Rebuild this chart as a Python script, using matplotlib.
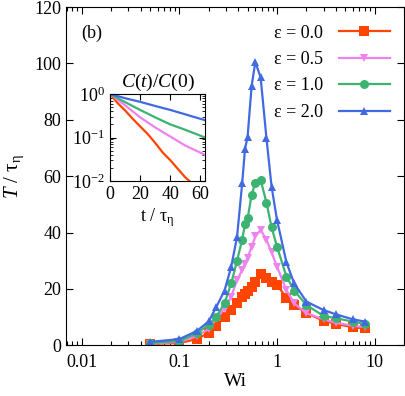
import matplotlib
matplotlib.use("Agg")
import matplotlib.pyplot as plt
from matplotlib.ticker import LogLocator, NullFormatter, FixedLocator

plt.rcParams['font.family'] = ['Liberation Serif', 'DejaVu Serif']
plt.rcParams['mathtext.fontset'] = 'custom'
plt.rcParams['mathtext.rm'] = 'Liberation Serif'
plt.rcParams['mathtext.it'] = 'Liberation Serif:italic'
plt.rcParams['mathtext.default'] = 'regular'
plt.rcParams['font.size'] = 13

# ---- main data ----
wi = [0.05, 0.1, 0.15, 0.2, 0.24, 0.29, 0.34, 0.39, 0.44, 0.47, 0.5, 0.55,
      0.6, 0.68, 0.78, 0.88, 1.0, 1.25, 1.5, 2, 3, 4, 6, 8]
T_eps00 = [0.5, 0.8, 2.2, 4.4, 6.9, 10.2, 12.5, 14.9, 17.3, 18.2, 19.2, 20.8,
           22.6, 25.3, 24.0, 22.6, 21.4, 16.9, 14.3, 11.4, 8.7, 7.6, 6.4, 6.0]
T_eps05 = [0.6, 1.2, 3.2, 5.8, 9.5, 13.0, 17.3, 23.2, 26.7, 29.0, 31.0, 35.0,
           38.6, 41.0, 37.4, 33.0, 27.9, 19.6, 14.9, 11.4, 9.2, 8.0, 6.9, 6.5]
T_eps10 = [0.8, 1.5, 4.2, 7.3, 10.2, 14.9, 22.0, 30.0, 37.5, 43.0, 45.0, 53.4,
           57.7, 58.7, 50.6, 41.9, 35.0, 24.4, 19.4, 14.3, 10.4, 9.6, 8.4, 7.5]
T_eps20 = [1.2, 2.2, 5.0, 8.5, 13.7, 19.4, 27.9, 38.5, 57.5, 69.5, 74.0, 92.0,
           100.5, 95.0, 73.5, 56.3, 44.5, 29.4, 22.0, 15.5, 12.5, 11.0, 9.2, 8.4]

labels = ['ε = 0.0', 'ε = 0.5', 'ε = 1.0', 'ε = 2.0']
colors = ['#FF4500', '#EE82EE', '#3CB371', '#4169E1']
markers = ['s', 'v', 'o', '^']
msizes = [6.5, 6, 6.5, 6]

# ---- inset data ----
t_red = [0, 5, 10, 15, 20, 25, 30, 35, 40, 45, 50, 55]
C_red = [1.0, 0.62, 0.42, 0.27, 0.18, 0.12, 0.075, 0.045, 0.03, 0.019, 0.012, 0.0085]
t_other = [0, 10, 20, 30, 40, 50, 63]
C_pink = [1.0, 0.55, 0.29, 0.17, 0.105, 0.065, 0.04]
C_green = [1.0, 0.65, 0.43, 0.29, 0.2, 0.15, 0.1]
C_blue = [1.0, 0.8, 0.66, 0.53, 0.43, 0.34, 0.25]

fig = plt.figure(figsize=(4.06, 3.96), dpi=100)
ax = fig.add_axes([66/406, 1-345.3/396, 338/406, 338.3/396])

series = [T_eps00, T_eps05, T_eps10, T_eps20]
for ys, lab, c, m, ms in zip(series, labels, colors, markers, msizes):
    ax.plot(wi, ys, color=c, marker=m, ms=ms, lw=1.6, label=lab,
            markeredgewidth=0)

ax.set_xscale('log')
ax.set_xlim(0.0069, 20)
ax.set_ylim(0, 120)
ax.set_yticks([0, 20, 40, 60, 80, 100, 120])
ax.xaxis.set_major_locator(FixedLocator([0.01, 0.1, 1, 10]))
ax.set_xticklabels(['0.01', '0.1', '1', '10'])
ax.xaxis.set_minor_locator(LogLocator(base=10, subs=range(2, 10)))
ax.xaxis.set_minor_formatter(NullFormatter())
ax.tick_params(which='both', direction='in', top=True, right=True)
ax.tick_params(which='major', length=5, width=0.8, labelsize=13)
ax.tick_params(which='minor', length=3, width=0.8)
ax.tick_params(axis='x', pad=6)
ax.set_xlabel('Wi', fontsize=14, labelpad=2)
ax.set_ylabel('$\\mathit{T}$ / τ$_{η}$', fontsize=15, labelpad=6)
ax.text(0.044, 0.923, '(b)', transform=ax.transAxes, fontsize=13,
        va='center', ha='left')

leg = ax.legend(loc='upper right', markerfirst=False, frameon=False,
                handlelength=2.8, fontsize=13, labelspacing=0.52,
                borderaxespad=0.3, bbox_to_anchor=(0.995, 0.985),
                handletextpad=0.9)

# ---- inset ----
ins = fig.add_axes([110/406, 1-181/396, 95/406, 87/396])
ins.plot(t_red, C_red, color=colors[0], lw=1.6)
ins.plot(t_other, C_pink, color=colors[1], lw=1.6)
ins.plot(t_other, C_green, color=colors[2], lw=1.6)
ins.plot(t_other, C_blue, color=colors[3], lw=1.6)
ins.set_yscale('log')
ins.set_ylim(0.01, 1)
ins.set_xlim(0, 63)
ins.set_xticks([0, 20, 40, 60])
ins.yaxis.set_minor_locator(LogLocator(base=10, subs=range(2, 10)))
ins.yaxis.set_minor_formatter(NullFormatter())
ins.set_yticks([0.01, 0.1, 1])
ins.set_yticklabels(['$10^{-2}$', '$10^{-1}$', '$10^{0}$'])
ins.tick_params(which='both', direction='in', top=True, right=True)
ins.tick_params(which='major', length=4, width=0.8, labelsize=13)
ins.tick_params(which='minor', length=2, width=0.6)
ins.set_xlabel('t / τ$_{η}$', fontsize=13, labelpad=2)
ins.set_title('$\\mathit{C(t)/C(}$0$\\mathit{)}$', fontsize=14, pad=5)

fig.savefig('out.png', dpi=100)
